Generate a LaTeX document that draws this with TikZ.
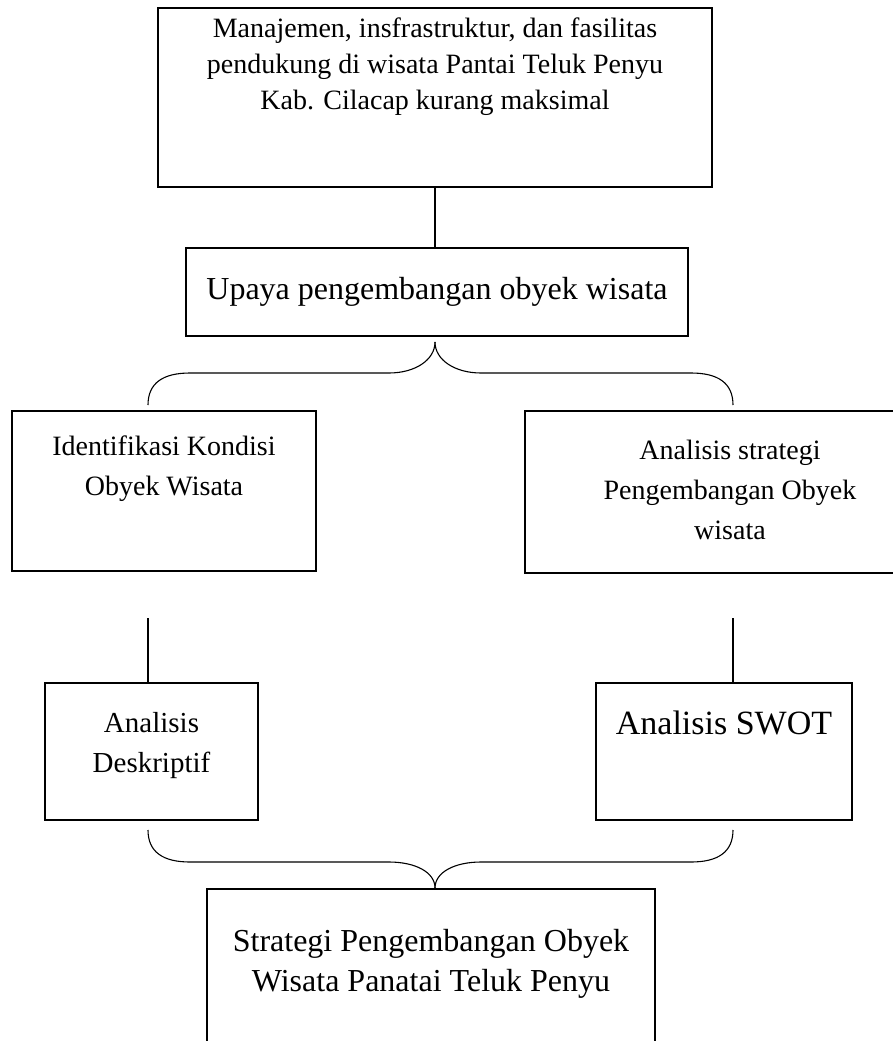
\documentclass[tikz,border=0pt]{standalone}
\usepackage{fontspec}
\setmainfont{Liberation Serif}
\usetikzlibrary{positioning,calc}

\tikzset{
  kotak/.style={draw, line width=1.5pt, inner sep=0pt},
  teks/.style={align=center, inner sep=0pt, font=\fontsize{28}{40}\selectfont},
  teksbesar/.style={teks, font=\fontsize{32}{40}\selectfont},
  garis/.style={line width=1.1pt},
}

\begin{document}
\begin{tikzpicture}[x=1pt, y=-1pt]
    \useasboundingbox (0,0) rectangle (893,1041);

    % Kotak masalah
    \node[kotak, minimum width=554, minimum height=179] (masalah) at (435,97.5) {};
    \node[teks, font=\fontsize{28}{36}\selectfont, below=10pt of masalah.north] (masalahT) {Manajemen, insfrastruktur, dan fasilitas\\pendukung di wisata Pantai Teluk Penyu\\Kab. Cilacap kurang maksimal};

    % Kotak upaya
    \node[kotak, minimum width=502, minimum height=88] (upaya) at (437,292) {};
    \node[teksbesar] (upayaT) at (upaya.center) {Upaya pengembangan obyek wisata};
    \draw[garis] (masalah.south) -- (masalah.south |- upaya.north);

    % Identifikasi dan analisis strategi
    \node[kotak, minimum width=304, minimum height=160] (identifikasi) at (164,491) {};
    \node[teks, below=25pt of identifikasi.north] (identifikasiT) {Identifikasi Kondisi\\Obyek Wisata};
    \node[kotak, minimum width=410, minimum height=162] (strategi) at (730,492) {};
    \node[teks, below=30pt of strategi.north] (strategiT) {Analisis strategi\\Pengembangan Obyek\\wisata};

    % Kurung atas
    \coordinate (ujungA) at (435,342);
    \coordinate (kiriA) at (148,405);
    \coordinate (kananA) at (733,405);
    \draw[garis] (kiriA) .. controls ($(kiriA)+(0,-22)$) and ($(kiriA)+(15,-32)$) .. ($(kiriA)+(42,-32)$)
        -- ($(ujungA)+(-46,31)$) .. controls ($(ujungA)+(-20,31)$) and ($(ujungA)+(0,18)$) .. (ujungA);
    \draw[garis] (kananA) .. controls ($(kananA)+(0,-22)$) and ($(kananA)+(-15,-32)$) .. ($(kananA)+(-42,-32)$)
        -- ($(ujungA)+(46,31)$) .. controls ($(ujungA)+(20,31)$) and ($(ujungA)+(0,18)$) .. (ujungA);

    % Analisis
    \node[kotak, minimum width=213, minimum height=137] (deskriptif) at (151.5,751.5) {};
    \node[teks, font=\fontsize{29}{40}\selectfont, below=30pt of deskriptif.north] (deskriptifT) {Analisis\\Deskriptif};
    \node[kotak, minimum width=256, minimum height=137] (swot) at (724,751.5) {};
    \node[teksbesar, font=\fontsize{34}{40}\selectfont, below=28pt of swot.north] (swotT) {Analisis SWOT};
    \draw[garis] (148,618) coordinate (kiriG) -- (kiriG |- deskriptif.north);
    \draw[garis] (733,618) coordinate (kananG) -- (kananG |- swot.north);

    % Kurung bawah
    \node[kotak, minimum width=448, minimum height=170, anchor=north] (hasil) at (431,888) {};
    \node[teksbesar, below=41pt of hasil.north] (hasilT) {Strategi Pengembangan Obyek\\Wisata Panatai Teluk Penyu};
    \coordinate (ujungB) at (hasil.north -| ujungA);
    \coordinate (kiriB) at (148,830);
    \coordinate (kananB) at (733,830);
    \draw[garis] (kiriB) .. controls ($(kiriB)+(0,22)$) and ($(kiriB)+(15,32)$) .. ($(kiriB)+(42,32)$)
        -- ($(ujungB)+(-46,-26)$) .. controls ($(ujungB)+(-20,-26)$) and ($(ujungB)+(0,-16)$) .. (ujungB);
    \draw[garis] (kananB) .. controls ($(kananB)+(0,22)$) and ($(kananB)+(-15,32)$) .. ($(kananB)+(-42,32)$)
        -- ($(ujungB)+(46,-26)$) .. controls ($(ujungB)+(20,-26)$) and ($(ujungB)+(0,-16)$) .. (ujungB);
\end{tikzpicture}
\end{document}
